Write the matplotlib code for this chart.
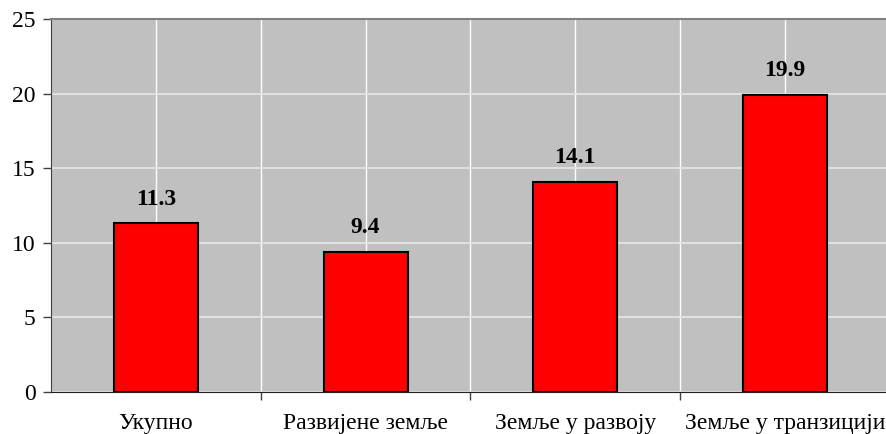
import matplotlib.pyplot as plt
import matplotlib.ticker as ticker

CATEGORIES = ['Укупно', 'Развијене земље', 'Земље у развоју', 'Земље у транзицији']
VALUES = [11.3, 9.4, 14.1, 19.9]
Y_TICKS = [0, 5, 10, 15, 20, 25]

plt.rcParams['font.family'] = ['Liberation Serif', 'DejaVu Serif']

fig = plt.figure(figsize=(8.87, 4.34), dpi=100)
ax = fig.add_axes([51 / 887, 42 / 434, 839 / 887, 373 / 434])
ax.set_facecolor('#C0C0C0')

x = list(range(len(CATEGORIES)))
ax.bar(x, VALUES, width=0.4, color='#FF0000', edgecolor='black', linewidth=1.5, zorder=3)
for xi, v in zip(x, VALUES):
    ax.annotate(f'{v:.1f}', (xi, v), xytext=(0, 10), textcoords='offset points',
                ha='center', va='bottom', fontsize=17, fontweight='bold')

ax.set_xlim(-0.5, len(CATEGORIES) - 0.5)
ax.set_ylim(0, 25)
ax.set_yticks(Y_TICKS)
ax.tick_params(axis='y', labelsize=17, length=6, width=1, color='#404040', pad=5)

ax.set_xticks(x)
ax.set_xticklabels(CATEGORIES)
ax.xaxis.set_minor_locator(ticker.FixedLocator([i + 0.5 for i in x]))
ax.tick_params(axis='x', which='major', length=0, labelsize=17, pad=15)
ax.tick_params(axis='x', which='minor', length=6, width=1, color='#404040')

ax.grid(axis='x', which='both', color='white', linewidth=1, zorder=0)
ax.grid(axis='y', which='major', color='#E4E4E4', linewidth=1.3, zorder=0)
ax.set_axisbelow(True)

ax.spines['right'].set_visible(False)
ax.spines['top'].set_color('#808080')
ax.spines['top'].set_linewidth(1.5)
ax.spines['left'].set_color('#404040')
ax.spines['bottom'].set_color('#202020')

fig.savefig('out.png', dpi=100)
